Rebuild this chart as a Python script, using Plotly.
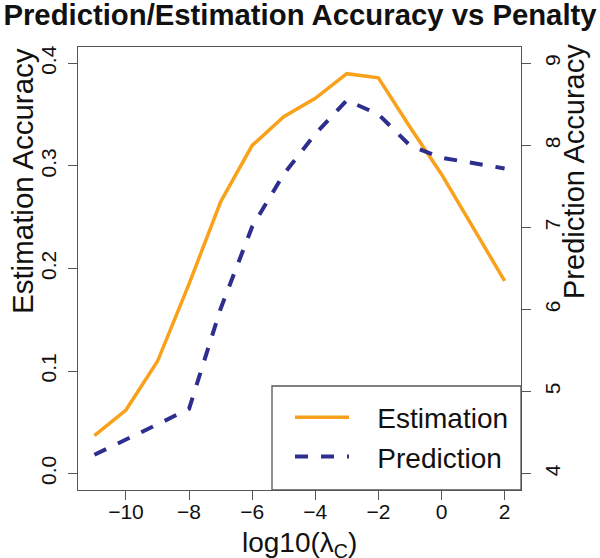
import plotly.graph_objects as go

log_lambda = [-11, -10, -9, -8, -7, -6, -5, -4, -3, -2, -1, 0, 2]
estimation = [0.037, 0.062, 0.1095, 0.185, 0.265, 0.320, 0.348, 0.366, 0.390, 0.386, 0.338, 0.292, 0.188]
prediction = [4.23, 4.41, 4.60, 4.79, 6.01, 7.01, 7.65, 8.14, 8.55, 8.38, 8.00, 7.85, 7.72]

x_ticks = [-10, -8, -6, -4, -2, 0, 2]
x_tick_labels = ["−10", "−8", "−6", "−4", "−2", "0", "2"]
y_ticks = [0.0, 0.1, 0.2, 0.3, 0.4]
y_tick_labels = ["0.0", "0.1", "0.2", "0.3", "0.4"]
y2_ticks = [4, 5, 6, 7, 8, 9]

FONT = "Liberation Sans"
AXC = "#555555"
TXT = "#111111"

fig = go.Figure()
fig.add_trace(go.Scatter(x=log_lambda, y=estimation, mode="lines", name="&nbsp;&nbsp;&nbsp;Estimation",
                         line=dict(color="#F9A11B", width=3.5)))
fig.add_trace(go.Scatter(x=log_lambda, y=prediction, mode="lines", name="&nbsp;&nbsp;&nbsp;Prediction",
                         yaxis="y2", line=dict(color="#2E2E8E", width=4, dash="13px,13px")))

axis_common = dict(showline=True, linecolor=AXC, linewidth=1.3, ticks="outside",
                   ticklen=9, tickcolor=AXC, tickwidth=1.3, showgrid=False, zeroline=False,
                   tickfont=dict(family=FONT, size=21, color=TXT))

fig.update_layout(
    width=600, height=558,
    paper_bgcolor="white", plot_bgcolor="white",
    margin=dict(l=78, r=79, t=47, b=68),
    font=dict(family=FONT, color=TXT),
    title=dict(text="<b>Prediction/Estimation Accuracy vs Penalty</b>", x=0.5, xanchor="center",
               y=1 - 15 / 558, yanchor="middle", font=dict(family=FONT, size=29.3, color=TXT)),
    xaxis=dict(range=[-11.52, 2.52], tickvals=x_ticks, ticktext=x_tick_labels,
               mirror=True, ticklabelstandoff=-6, **axis_common),
    yaxis=dict(range=[-0.016, 0.416], tickvals=y_ticks, ticktext=y_tick_labels, tickangle=-90,
               mirror=True, ticklabelstandoff=3, **axis_common),
    yaxis2=dict(range=[3.8, 9.2], tickvals=y2_ticks, overlaying="y", side="right", tickangle=-90,
                ticklabelstandoff=4, **axis_common),
    showlegend=True,
    legend=dict(x=(290 - 78) / 443, xanchor="left", y=(490 - 437) / 443, yanchor="middle",
                bgcolor="rgba(0,0,0,0)", borderwidth=0, itemwidth=54,
                font=dict(family=FONT, size=28, color=TXT), tracegroupgap=0),
    shapes=[dict(type="rect", xref="paper", yref="paper", x0=(272 - 78) / 443, x1=1,
                 y0=0, y1=(490 - 386) / 443, line=dict(color=AXC, width=1.3), fillcolor="white",
                 layer="above")],
    annotations=[
        dict(text="Estimation Accuracy", xref="paper", yref="paper", x=(22 - 78) / 443,
             y=(490 - 181) / 443, xanchor="center", yanchor="middle", textangle=-90, showarrow=False,
             font=dict(family=FONT, size=29.5, color=TXT)),
        dict(text="Prediction Accuracy", xref="paper", yref="paper", x=(574 - 78) / 443,
             y=(490 - 172) / 443, xanchor="center", yanchor="middle", textangle=-90, showarrow=False,
             font=dict(family=FONT, size=29, color=TXT)),
        dict(text="log10(λ<sub>C</sub>)", xref="paper", yref="paper", x=0.5, y=(490 - 544) / 443,
             xanchor="center", yanchor="middle", showarrow=False,
             font=dict(family=FONT, size=28, color=TXT)),
    ],
)

fig.write_html("out.html", config={"displayModeBar": False},
               post_script="document.body.style.margin='0';document.body.style.padding='0';")
